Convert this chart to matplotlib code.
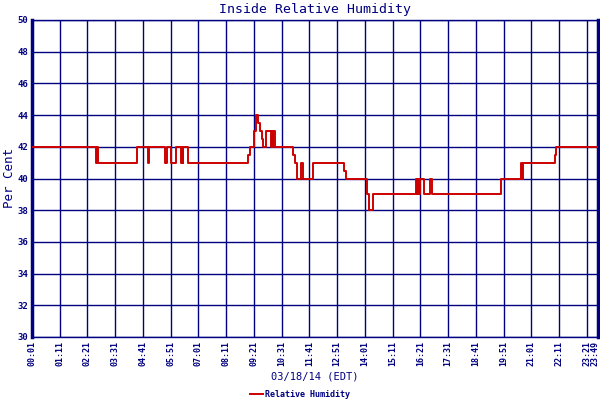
import numpy as np
import matplotlib
matplotlib.use('Agg')
import matplotlib.pyplot as plt
import matplotlib.transforms as mtransforms

# lecturas de humedad relativa (hora de cambio, valor)
horas = ['00:01', '02:43', '02:46', '02:48', '04:27', '04:54', '04:57', '05:36', '05:42',
         '05:51', '06:05', '06:16', '06:19', '06:21', '06:23', '06:34', '09:06', '09:10',
         '09:21', '09:25', '09:32', '09:35', '09:41', '09:44', '09:51', '10:04', '10:07',
         '10:08', '10:10', '10:13', '11:00', '11:04', '11:10', '11:19', '11:25', '11:50',
         '13:08', '13:13', '14:07', '14:11', '14:21', '16:09', '16:12', '16:15', '16:18',
         '16:20', '16:30', '16:45', '16:49', '19:44', '20:34', '20:38', '20:40', '22:01',
         '22:04', '23:49']
humedad = [42, 41, 42, 41, 42, 41, 42, 41, 42,
           41, 42, 41, 42, 41, 42, 41, 41.5, 42,
           43, 44, 43.5, 43, 42.5, 42, 43, 42, 43,
           42, 43, 42, 41.5, 41, 40, 41, 40, 41,
           40.5, 40, 39, 38, 39, 40, 39, 40, 39,
           40, 39, 40, 39, 40, 41, 40, 41, 41.5,
           42, 42]

etiquetas_x = ['00:01', '01:11', '02:21', '03:31', '04:41', '05:51', '07:01', '08:11',
               '09:21', '10:31', '11:41', '12:51', '14:01', '15:11', '16:21', '17:31',
               '18:41', '19:51', '21:01', '22:11', '23:21', '23:49']
etiquetas_y = [30, 32, 34, 36, 38, 40, 42, 44, 46, 48, 50]


def a_minutos(h):
    hh, mm = h.split(':')
    return int(hh) * 60 + int(mm)


t = np.array([a_minutos(h) for h in horas])
pos_x = [a_minutos(h) for h in etiquetas_x]

azul = '#000080'
rojo = '#cc0000'
fuente = 'DejaVu Sans Mono'

fig = plt.figure(figsize=(6, 4), dpi=100)
ax = fig.add_axes([32 / 600, 63 / 400, 566 / 600, 317 / 400])

ax.step(t, humedad, where='post', color=rojo, linewidth=1.4, label='Relative Humidity', zorder=3)

ax.set_xlim(t[0], t[-1])
ax.set_ylim(30, 50)
ax.set_xticks(pos_x)
ax.set_xticklabels(etiquetas_x, rotation=90, fontsize=6, fontweight='bold', family=fuente, color=azul)
ax.set_yticks(etiquetas_y)
ax.set_yticklabels([str(v) for v in etiquetas_y], fontsize=6.5, fontweight='bold', family=fuente, color=azul)
ax.tick_params(length=0, pad=3)
ax.grid(True, color=azul, linewidth=1.0, zorder=1)

# la ultima etiqueta queda pegada al borde, se corre un poco a la izquierda
ultima = ax.get_xticklabels()[-1]
ultima.set_transform(ultima.get_transform() +
                     mtransforms.ScaledTranslation(-3 / 100, 0, fig.dpi_scale_trans))

for lado in ['left', 'right']:
    ax.spines[lado].set_color(azul)
    ax.spines[lado].set_linewidth(2.5)
for lado in ['top', 'bottom']:
    ax.spines[lado].set_color(azul)
    ax.spines[lado].set_linewidth(1.0)

ax.set_title('Inside Relative Humidity', fontsize=9.5, family=fuente, color=azul, pad=5)
fig.text(0.016, 0.555, 'Per Cent', rotation=90, ha='center', va='center',
         fontsize=9, family=fuente, color=azul)
ax.set_xlabel('03/18/14 (EDT)', fontsize=7.5, family=fuente, color=azul, labelpad=4)

ley = fig.legend(loc='center', bbox_to_anchor=(0.5, 0.014), frameon=False,
                 prop={'family': fuente, 'size': 6, 'weight': 'bold'}, handlelength=1.5,
                 handletextpad=0.3, borderpad=0)
for txt in ley.get_texts():
    txt.set_color(azul)

plt.savefig('out.png', dpi=100)
